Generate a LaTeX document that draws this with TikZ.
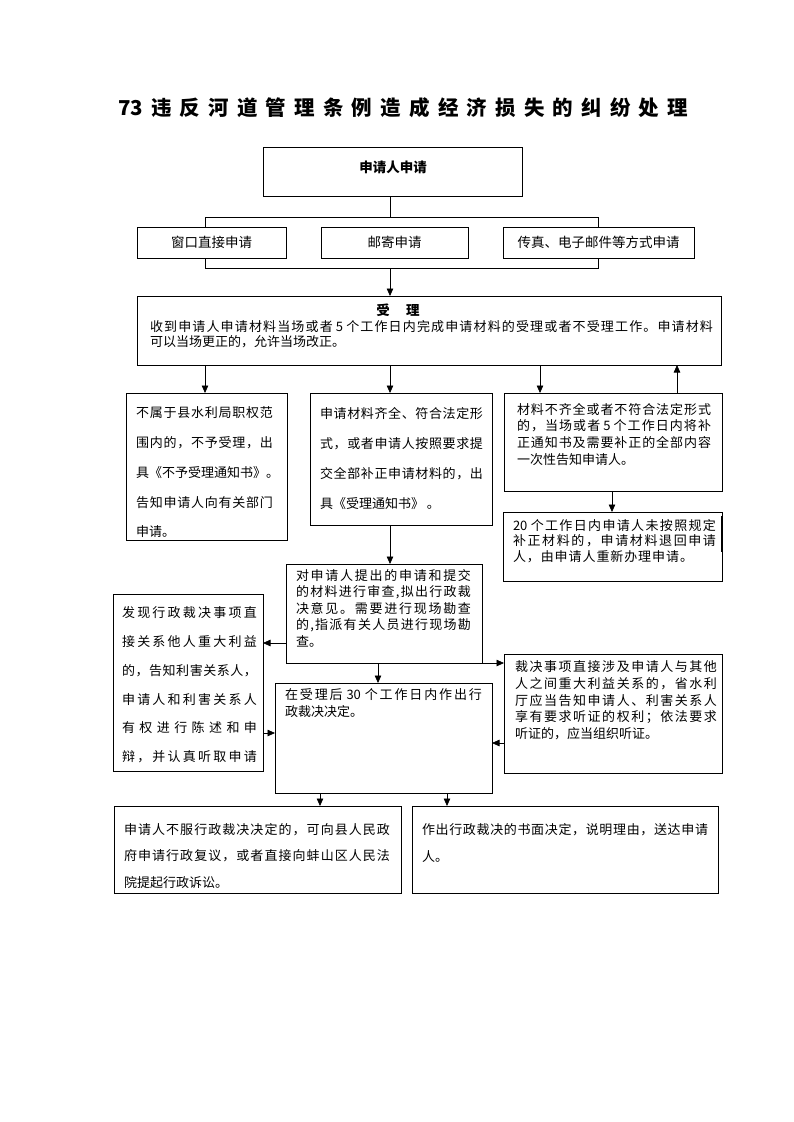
\documentclass[tikz,border=0pt]{standalone}
\usepackage{fontspec}
\setmainfont{Noto Sans CJK SC}
\usetikzlibrary{arrows.meta}
\makeatletter
\def\spreadchars#1{\spread@#1\@nil}
\def\spread@#1#2\@nil{#1\if\relax\detokenize{#2}\relax\else\hfil\spread@#2\@nil\fi}
\makeatother
\newcommand\jl[2]{\hbox to #1pt{\spreadchars{#2}}}
\newcommand\nl[1]{\hbox{#1}}
\newcommand\bx[5]{\node[box, minimum width=#4pt, minimum height=#5pt] (#1) at (#2,#3) {};}
\tikzset{
  ln/.style={line width=0.75pt},
  arr/.style={ln, -{Triangle[length=7.5pt,width=6.5pt]}},
  box/.style={draw, ln, fill=white, inner sep=0pt, outer sep=0pt, anchor=north west, rectangle},
  txt/.style={inner sep=0pt, outer sep=0pt, anchor=north west, font=\fontsize{13}{#1}\selectfont},
  txt/.default=15,
  ctr/.style={inner sep=0pt, anchor=center, font=\fontsize{13.5}{15}\selectfont},
  bld/.style={inner sep=0pt, anchor=center, font=\fontsize{13.5}{15}\selectfont\bfseries},
}
\begin{document}
\begin{tikzpicture}[x=1pt,y=-1pt]
\fill[white] (0,0) rectangle (793,1122);
\useasboundingbox (0,0) rectangle (793,1122);

% title
\node[inner sep=0pt, font=\fontsize{20.5}{24}\selectfont\bfseries] (title) at (403,108)
  {\hbox to 570pt{\spreadchars{{73}违反河道管理条例造成经济损失的纠纷处理}}};

% helper coordinates
\coordinate (mx) at (390,0);
\coordinate (xa) at (205,0);
\coordinate (xc) at (540,0);
\coordinate (xu) at (677,0);
\coordinate (xd) at (612,0);
\coordinate (xe) at (378,0);
\coordinate (xh1) at (320,0);
\coordinate (xh2) at (447,0);
\coordinate (yl) at (0,643);
\coordinate (yr) at (0,733);
\coordinate (yg) at (0,743);
\coordinate (bt1) at (205,217);
\coordinate (bt2) at (598,268);

% top
\bx{A}{263}{147}{259}{49}
\node[bld] (tA) at (393,167) {申请人申请};
\draw[ln] (A.south -| mx) -- (mx |- bt1);
\draw[ln] (bt1) rectangle (bt2);
\bx{R1}{137}{227}{149}{31}
\bx{R2}{321}{227}{147}{31}
\bx{R3}{503}{227}{191}{31}
\node[ctr] (tR1) at (R1.center) {窗口直接申请};
\node[ctr] (tR2) at (R2.center) {邮寄申请};
\node[ctr] (tR3) at (R3.center) {传真、电子邮件等方式申请};

% accept
\bx{B}{137}{296}{584}{69}
\node[bld] (tB0) at (398,310) {受\hspace{1.2em}理};
\node[txt=15.3] (tB) at (150,320) {\vbox{%
  \jl{563}{收到申请人申请材料当场或者{\hspace{2pt}5\hspace{2pt}}个工作日内完成申请材料的受理或者不受理工作。申请材料}
  \nl{可以当场更正的，允许当场改正。}}};

% three outcomes
\bx{C1}{126}{393}{161}{147}
\node[txt=29.7] (tC1) at (136,407) {\vbox{%
  \jl{137}{不属于县水利局职权范}
  \jl{137}{围内的，不予受理，出}
  \nl{具《不予受理通知书》。}
  \jl{137}{告知申请人向有关部门}
  \nl{申请。}}};

\bx{C2}{310}{393}{182}{132}
\node[txt=30] (tC2) at (320,407) {\vbox{%
  \jl{163}{申请材料齐全、符合法定形}
  \jl{163}{式，或者申请人按照要求提}
  \jl{163}{交全部补正申请材料的，出}
  \nl{具《受理通知书》\hspace{3pt}。}}};

\bx{C3}{504}{393}{218}{98}
\node[txt=16.7] (tC3) at (517,403) {\vbox{%
  \jl{194}{材料不齐全或者不符合法定形式}
  \jl{194}{的，当场或者{\hspace{2pt}5\hspace{2pt}}个工作日内将补}
  \jl{194}{正通知书及需要补正的全部内容}
  \nl{一次性告知申请人。}}};

\bx{D3}{503}{512}{219}{69}
\draw[line width=1.8pt] ([yshift=-4pt]D3.north east) -- ([yshift=-40pt]D3.north east);
\node[txt=15.5] (tD3) at (513,519) {\vbox{%
  \jl{203}{{20\hspace{2pt}}个工作日内申请人未按照规定}
  \jl{203}{补正材料的，申请材料退回申请}
  \jl{180}{人，由申请人重新办理申请。}}};

% review
\bx{E}{286}{564}{196}{99}
\node[txt=16.5] (tE) at (296,569) {\vbox{%
  \jl{175}{对申请人提出的申请和提交}
  \jl{175}{的材料进行审查,拟出行政裁}
  \jl{175}{决意见。需要进行现场勘查}
  \jl{175}{的,指派有关人员进行现场勘}
  \nl{查。}}};

\bx{F}{113}{594}{150}{177}
\node[txt=28.7] (tF) at (122,607) {\vbox{%
  \jl{135}{发现行政裁决事项直}
  \jl{135}{接关系他人重大利益}
  \jl{135}{的，告知利害关系人，}
  \jl{135}{申请人和利害关系人}
  \jl{135}{有权进行陈述和申}
  \jl{135}{辩，并认真听取申请}}};

\bx{E2}{275}{683}{217}{110}
\node[txt=16.5] (tE2) at (285,689) {\vbox{%
  \jl{197}{在受理后{\hspace{2pt}30\hspace{2pt}}个工作日内作出行}
  \nl{政裁决决定。}}};

\bx{G}{504}{654}{218}{119}
\node[txt=16.6] (tG) at (515,661) {\vbox{%
  \jl{202}{裁决事项直接涉及申请人与其他}
  \jl{202}{人之间重大利益关系的，省水利}
  \jl{202}{厅应当告知申请人、利害关系人}
  \jl{202}{享有要求听证的权利；依法要求}
  \nl{听证的，应当组织听证。}}};

% results
\bx{H1}{114}{806}{287}{87}
\node[txt=26.5] (tH1) at (124,823) {\vbox{%
  \jl{266}{申请人不服行政裁决决定的，可向县人民政}
  \jl{266}{府申请行政复议，或者直接向蚌山区人民法}
  \nl{院提起行政诉讼。}}};

\bx{H2}{412}{806}{306}{87}
\node[txt=27] (tH2) at (422,823) {\vbox{%
  \jl{286}{作出行政裁决的书面决定，说明理由，送达申请}
  \nl{人。}}};

% connectors
\draw[arr] (mx |- bt2) -- (B.north -| mx);
\draw[arr] (B.south -| xa) -- (C1.north -| xa);
\draw[arr] (B.south -| mx) -- (C2.north -| mx);
\draw[arr] (B.south -| xc) -- (C3.north -| xc);
\draw[arr] (C3.north -| xu) -- (B.south -| xu);
\draw[arr] (C3.south -| xd) -- (D3.north -| xd);
\draw[arr] (C2.south -| mx) -- (E.north -| mx);
\draw[arr] (E.west |- yl) -- (F.east |- yl);
\draw[arr] (F.east |- yr) -- (E2.west |- yr);
\draw[arr] (E.south -| xe) -- (E2.north -| xe);
\draw[arr] (E.south east) -- (E.south east -| G.west);
\draw[arr] (G.west |- yg) -- (E2.east |- yg);
\draw[arr] (E2.south -| xh1) -- (H1.north -| xh1);
\draw[arr] (E2.south -| xh2) -- (H2.north -| xh2);
\end{tikzpicture}
\end{document}
